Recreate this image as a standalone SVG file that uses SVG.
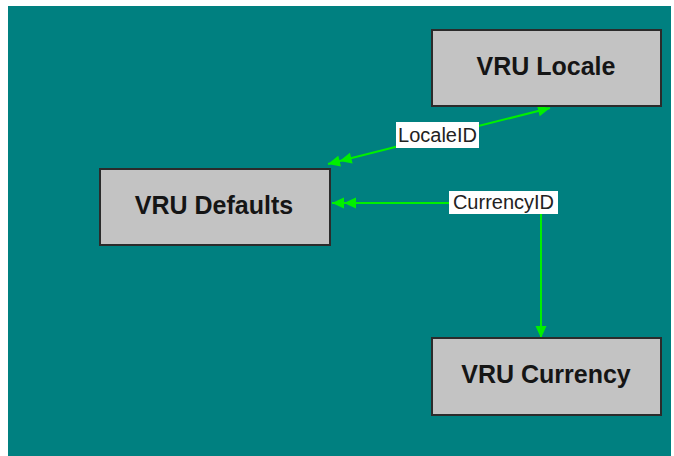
<svg xmlns="http://www.w3.org/2000/svg" width="674" height="456" viewBox="0 0 674 456">
  <style>
    .node rect { fill: #c3c3c3; stroke: #2b2b2b; stroke-width: 2; }
    .node text { font-family: "Liberation Sans", Arial, sans-serif; font-weight: bold; font-size: 25px; fill: #151515; text-anchor: middle; }
    .edge { fill: none; stroke: #00f000; stroke-width: 2; }
    .lbl rect { fill: #ffffff; }
    .lbl text { font-family: "Liberation Sans", Arial, sans-serif; font-size: 20px; fill: #222222; text-anchor: middle; }
  </style>
  <defs>
    <marker id="arrow" markerUnits="userSpaceOnUse" viewBox="-13 -6 14 12" refX="0" refY="0" markerWidth="14" markerHeight="12" orient="auto-start-reverse">
      <path d="M0,0 L-12,-5.5 L-12,5.5 Z" fill="#00f000"/>
    </marker>
    <marker id="arrow2" markerUnits="userSpaceOnUse" viewBox="-25 -6 26 12" refX="0" refY="0" markerWidth="26" markerHeight="12" orient="auto-start-reverse">
      <path d="M0,0 L-12,-5.5 L-12,5.5 Z M-12,0 L-24,-5.5 L-24,5.5 Z" fill="#00f000"/>
    </marker>
  </defs>
  <rect x="8" y="6" width="663" height="450" fill="#008080"/>

  <g id="connectors">
    <line class="edge" x1="328" y1="164" x2="550" y2="108" marker-start="url(#arrow2)" marker-end="url(#arrow)"/>
    <polyline class="edge" points="332,203 541,203 541,338" marker-start="url(#arrow2)" marker-end="url(#arrow)"/>
    <g class="lbl">
      <rect x="396" y="122" width="83" height="26"/>
      <text x="437.5" y="142">LocaleID</text>
    </g>
    <g class="lbl">
      <rect x="449" y="191" width="109" height="23"/>
      <text x="503.5" y="209">CurrencyID</text>
    </g>
  </g>

  <g id="vru-locale" class="node">
    <rect x="432" y="30" width="229" height="76"/>
    <text x="546" y="75">VRU Locale</text>
  </g>
  <g id="vru-defaults" class="node">
    <rect x="100" y="169" width="230" height="76"/>
    <text x="214" y="214">VRU Defaults</text>
  </g>
  <g id="vru-currency" class="node">
    <rect x="432" y="338" width="229" height="77"/>
    <text x="546" y="383">VRU Currency</text>
  </g>
</svg>
